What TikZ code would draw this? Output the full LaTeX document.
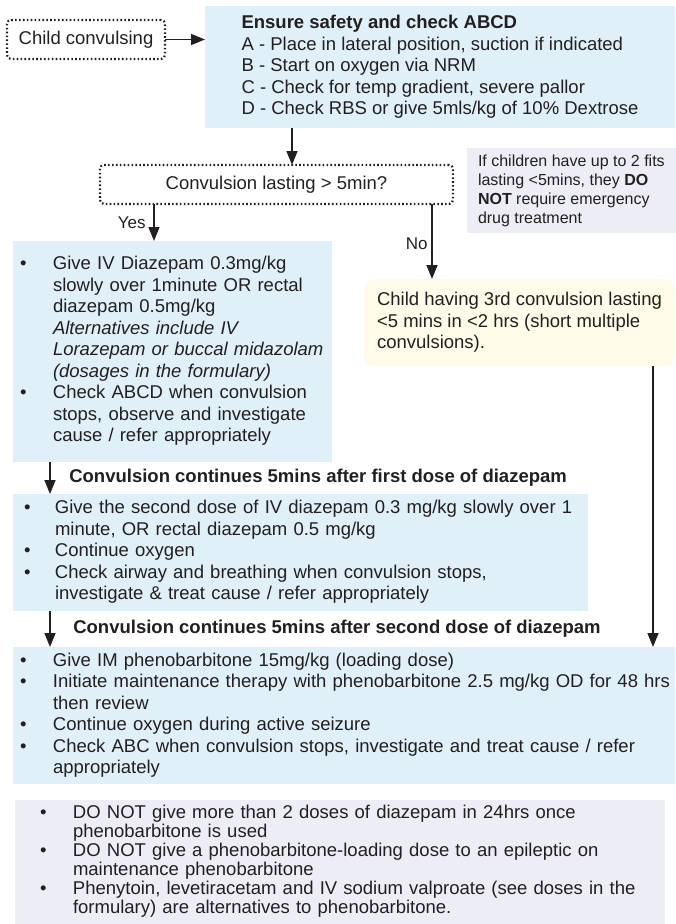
\documentclass[tikz,border=0pt]{standalone}
\usepackage{fontspec}
\setmainfont{Liberation Sans}
\usetikzlibrary{arrows.meta,positioning}
\definecolor{ink}{HTML}{231F20}
\definecolor{paleblue}{HTML}{DFF0F9}
\definecolor{palelilac}{HTML}{EDEDF6}
\definecolor{paleyellow}{HTML}{FFFBE8}

\begin{document}
\begin{tikzpicture}[
            x=1pt, y=-1pt,
            every node/.style={text=ink, outer sep=0pt},
            txt/.style={font=\fontsize{18.5}{21.5}\selectfont},
            dotbox/.style={draw=ink, line width=2.2pt, dash pattern=on 1.6pt off 2.3pt, rounded corners=4pt, txt, inner sep=0pt, anchor=north west},
            bluebox/.style={fill=paleblue, anchor=north west, txt, align=left, inner ysep=0pt},
            notebox/.style={fill=palelilac, anchor=north west, align=left, inner ysep=0pt},
            yellowbox/.style={fill=paleyellow, rounded corners=10pt, anchor=north west, align=left, txt, inner sep=0pt},
            arrow/.style={-{Triangle[length=14pt,width=11pt]}, draw=ink, line width=1.5pt},
            lbl/.style={font=\fontsize{17}{20}\selectfont},
            steplbl/.style={font=\fontsize{18.5}{21.5}\selectfont\bfseries}
        ]
            \useasboundingbox (0,0) rectangle (675,924);

            % --- start ---
            \node[dotbox, minimum width=158pt, minimum height=39pt] (child) at (7,20) {Child convulsing};
            \node[bluebox, minimum width=470pt, minimum height=122pt, inner xsep=0pt] (abcd) at (205,6)
                {\textbf{Ensure safety and check ABCD}\\
                 A - Place in lateral position, suction if indicated\\
                 B - Start on oxygen via NRM\\
                 C - Check for temp gradient, severe pallor\\
                 D - Check RBS or give 5mls/kg of 10\% Dextrose};

            % --- decision ---
            \node[dotbox, minimum width=353pt, minimum height=39pt] (dec) at (100,165) {Convulsion lasting > 5min?};
            \node[notebox, minimum width=208pt, minimum height=85pt, inner xsep=11pt, font=\fontsize{16}{19}\selectfont] (fits) at (467,148)
                {If children have up to 2 fits\\
                 lasting <5mins, they \textbf{DO}\\
                 \textbf{NOT} require emergency\\
                 drug treatment};

            % --- first dose ---
            \node[bluebox, minimum width=319pt, minimum height=221pt, text width=305pt, inner xsep=7pt] (dose1) at (13,241)
                {\begin{tabular}{@{}p{33pt}@{}l@{}}
                 \textbullet & Give IV Diazepam 0.3mg/kg\\
                  & slowly over 1minute OR rectal\\
                  & diazepam 0.5mg/kg\\
                  & \textit{Alternatives include IV}\\
                  & \textit{Lorazepam or buccal midazolam}\\
                  & \textit{(dosages in the formulary)}\\
                 \textbullet & Check ABCD when convulsion\\
                  & stops, observe and investigate\\
                  & cause / refer appropriately
                 \end{tabular}};

            % --- short multiple convulsions ---
            \node[yellowbox, minimum width=311pt, minimum height=87pt] (third) at (364,279)
                {Child having 3rd convulsion lasting\\
                 <5 mins in <2 hrs (short multiple\\
                 convulsions).};

            % --- second dose ---
            \node[bluebox, minimum width=575pt, minimum height=117pt, text width=553pt, inner xsep=11pt] (dose2) at (13,494)
                {\begin{tabular}{@{}p{31pt}@{}l@{}}
                 \textbullet & Give the second dose of IV diazepam 0.3 mg/kg slowly over 1\\
                  & minute, OR rectal diazepam 0.5 mg/kg\\
                 \textbullet & Continue oxygen\\
                 \textbullet & Check airway and breathing when convulsion stops,\\
                  & investigate \& treat cause / refer appropriately
                 \end{tabular}};

            % --- phenobarbitone ---
            \node[bluebox, minimum width=662pt, minimum height=137pt, text width=648pt, inner xsep=7pt] (pheno) at (13,647)
                {\begin{tabular}{@{}p{33pt}@{}l@{}}
                 \textbullet & Give IM phenobarbitone 15mg/kg (loading dose)\\
                 \textbullet & Initiate maintenance therapy with phenobarbitone 2.5 mg/kg OD for 48 hrs\\
                  & then review\\
                 \textbullet & Continue oxygen during active seizure\\
                 \textbullet & Check ABC when convulsion stops, investigate and treat cause / refer\\
                  & appropriately
                 \end{tabular}};

            % --- cautions ---
            \node[notebox, minimum width=650pt, minimum height=124pt, text width=600pt, inner xsep=25pt, font=\fontsize{18.5}{19}\selectfont] (cautions) at (15,800)
                {\begin{tabular}{@{}p{33pt}@{}l@{}}
                 \textbullet & DO NOT give more than 2 doses of diazepam in 24hrs once\\
                  & phenobarbitone is used\\
                 \textbullet & DO NOT give a phenobarbitone-loading dose to an epileptic on\\
                  & maintenance phenobarbitone\\
                 \textbullet & Phenytoin, levetiracetam and IV sodium valproate (see doses in the\\
                  & formulary) are alternatives to phenobarbitone.
                 \end{tabular}};

            % connectors
            \coordinate (abcdout) at ([xshift=87pt]abcd.south west);
            \coordinate (yesout) at ([xshift=54pt]dec.south west);
            \coordinate (noout) at ([xshift=332pt]dec.south west);
            \coordinate (thirdout) at ([xshift=-22pt]third.south east);
            \coordinate (dose1out) at ([xshift=37pt]dose1.south west);
            \coordinate (dose2out) at ([xshift=37pt]dose2.south west);

            \draw[arrow] (child.east) -- (child.east -| abcd.west);
            \draw[arrow] (abcdout) -- (abcdout |- dec.north);
            \draw[arrow] (yesout) -- (yesout |- dose1.north) node[midway, left, lbl, xshift=-5pt] {Yes};
            \draw[arrow] (noout) -- (noout |- third.north) node[pos=0.53, left, lbl, xshift=-1pt] {No};
            \draw[arrow] (thirdout) -- (thirdout |- pheno.north);
            \draw[arrow] (dose1out) -- (dose1out |- dose2.north) node[midway, right, steplbl, xshift=16pt] {Convulsion continues 5mins after first dose of diazepam};
            \draw[arrow] (dose2out) -- (dose2out |- pheno.north) node[midway, right, steplbl, xshift=20pt] {Convulsion continues 5mins after second dose of diazepam};

        \end{tikzpicture}
\end{document}
